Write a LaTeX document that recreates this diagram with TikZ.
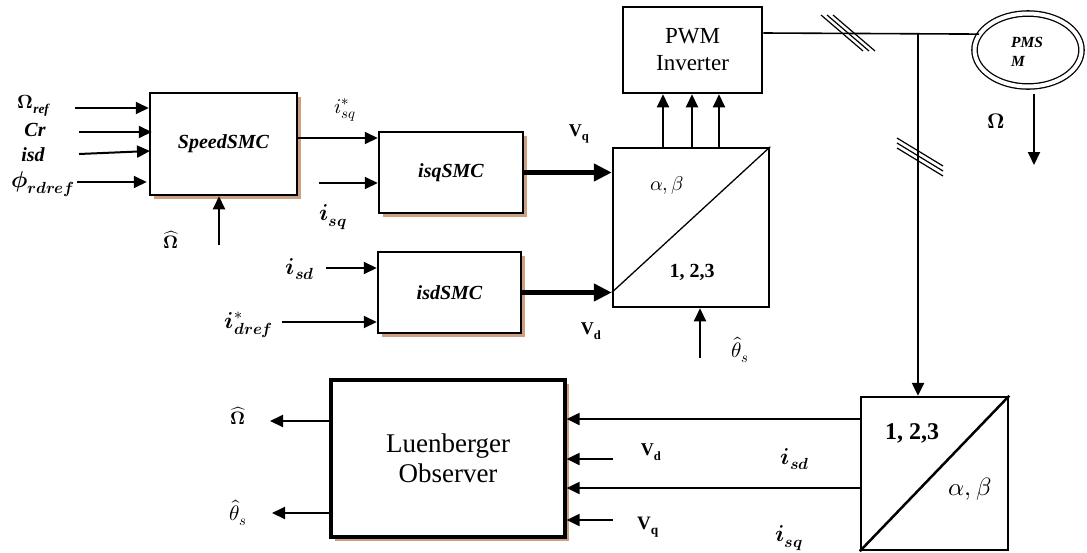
\documentclass[tikz,border=0pt]{standalone}
\usepackage{amsmath}
\usepackage{fontspec}
\usepackage{unicode-math}
\setmainfont{Liberation Serif}
\setmathfont{Latin Modern Math}
\usetikzlibrary{arrows.meta,shapes.geometric,shadows}
\definecolor{shad}{RGB}{204,160,128}
\begin{document}
\begin{tikzpicture}[x=1pt,y=-1pt,
  box/.style={draw, line width=2.5pt, fill=white, inner sep=0pt,
    drop shadow={shadow xshift=3.5pt, shadow yshift=-3.5pt, fill=shad, opacity=1}},
  plainbox/.style={draw, line width=2.5pt, fill=white, inner sep=0pt},
  arr/.style={line width=2pt, -{Triangle[length=13pt,width=12pt]}},
  thk/.style={line width=5pt, -{Triangle[length=18pt,width=17pt]}},
  wire/.style={line width=1.6pt},
  lbl/.style={inner sep=0pt, font=\fontsize{18}{20}\selectfont},
  ilbl/.style={inner sep=0pt, font=\fontsize{23}{25}\selectfont},
  tlbl/.style={inner sep=0pt, font=\fontsize{21}{23}\selectfont},
  blab/.style={inner sep=0pt, font=\fontsize{20}{22}\selectfont\bfseries\itshape},
]
\useasboundingbox (0,0) rectangle (1087,552);

% blocks
\node[box, minimum width=147pt, minimum height=102pt, font=\fontsize{20}{22}\selectfont\bfseries\itshape] (speed) at (223.5,144) {SpeedSMC};
\node[box, minimum width=144pt, minimum height=81pt, font=\fontsize{20}{22}\selectfont\bfseries\itshape] (isq) at (451,172.5) {isqSMC};
\node[box, minimum width=143pt, minimum height=81pt, font=\fontsize{20}{22}\selectfont\bfseries\itshape] (isd) at (449.5,292.5) {isdSMC};
\node[plainbox, minimum width=156pt, minimum height=159pt] (tr1) at (691,227.5) {};
\node[plainbox, minimum width=139pt, minimum height=86pt, align=center, font=\fontsize{23}{27}\selectfont] (pwm) at (692.5,50) {PWM\\Inverter};
\node[draw, ellipse, double, double distance=4pt, line width=1.3pt, minimum width=107pt, minimum height=73pt] (motor) at (1028,50) {};
\node[inner sep=0pt, anchor=west, align=left, font=\fontsize{15.5}{19}\selectfont\bfseries\itshape] (pmsm) at (1011,52) {PMS\\M};
\node[plainbox, minimum width=147pt, minimum height=153pt] (tr2) at (934.5,473.5) {};
\node[box, line width=3.2pt, minimum width=234pt, minimum height=157pt, align=center, font=\fontsize{27}{30}\selectfont] (luen) at (448,458.5) {Luenberger\\Observer};

% transformation diagonals and labels
\draw[line width=1.3pt] (tr1.west |- isd.east) -- (tr1.north east);
\node[lbl, font=\fontsize{20}{22}\selectfont] (ab1) at (667,185) {$\alpha,\beta$};
\node[lbl, font=\fontsize{20}{22}\selectfont\bfseries] (n1) at (692,272) {1, 2,3};
\draw[line width=2.5pt] (tr2.south west) -- (tr2.north east);
\node[lbl, font=\fontsize{24}{26}\selectfont\bfseries] (n2) at (912,433) {1, 2,3};
\node[lbl, font=\fontsize{25}{27}\selectfont] (ab2) at (970,489) {$\alpha,\beta$};

% SpeedSMC inputs
\coordinate (in1) at (75,108);
\coordinate (in2) at (79,132);
\coordinate (in3) at (79,154);
\coordinate (in4) at (77,182);
\coordinate (in3e) at (150,151);
\draw[arr] (in1) -- (in1 -| speed.west);
\draw[arr] (in2) -- ([xshift=3pt]in2 -| speed.west);
\draw[arr] (in3) -- (in3e);
\draw[arr] (in4) -- ([xshift=-2pt]in4 -| speed.west);
\node[lbl, font=\fontsize{19}{21}\selectfont] (lomref) at (34,106) {$\symbf{\Omega}_{\textbf{\textit{ref}}}$};
\node[blab] (lcr) at (35,130) {Cr};
\node[blab] (lisd) at (33,155) {isd};
\node[ilbl] (lphi) at (43,184) {$\symbfit{\phi}_{\symbfit{rdref}}$};

% Omega hat into SpeedSMC
\coordinate (omh) at (219,245);
\draw[arr] (omh) -- (omh |- speed.south);
\node[lbl] (lomh) at (171,240) {$\widehat{\symbf{\Omega}}$};

% isq reference
\coordinate (risq) at (0,138);
\draw[arr] (risq -| speed.east) -- (risq -| isq.west);
\node[tlbl] (listar) at (345,110) {$i_{sq}^{*}$};
\coordinate (misq) at (319,183);
\draw[arr] (misq) -- (misq -| isq.west);
\node[ilbl] (lisq) at (333,217) {$\symbfit{i}_{\symbfit{sq}}$};

% isd controller inputs
\coordinate (misd) at (326,268);
\draw[arr] (misd) -- (misd -| isd.west);
\node[ilbl] (lisd2) at (300,269) {$\symbfit{i}_{\symbfit{sd}}$};
\coordinate (rid) at (282,322);
\draw[arr] (rid) -- (rid -| isd.west);
\node[ilbl] (lidref) at (249,325) {$\symbfit{i}_{\symbfit{dref}}^{*}$};

% thick outputs
\draw[thk] (isq.east) -- (isq.east -| tr1.west);
\node[lbl, font=\fontsize{18}{20}\selectfont\bfseries] (lvq) at (579,134) {V\textsubscript{q}};
\draw[thk] (isd.east) -- (isd.east -| tr1.west);
\node[lbl, font=\fontsize{18}{20}\selectfont\bfseries] (lvd) at (591,331) {V\textsubscript{d}};

% tr1 to PWM
\foreach \xx [count=\k] in {663,692,719} {
  \coordinate (p\k) at (\xx,0);
  \draw[arr] (p\k |- tr1.north) -- (p\k |- pwm.south);
}
\coordinate (th1) at (700,358);
\draw[arr] (th1) -- (th1 |- tr1.south);
\node[tlbl] (lth1) at (740,350) {$\hat{\theta}_s$};

% PWM to motor
\coordinate (bus) at (0,33);
\coordinate (junc) at (918,33);
\draw[wire] (bus -| pwm.east) -- (motor.162);
\foreach \d in {-6,0,6} \draw[line width=1.2pt] (848+\d-21,33-18) -- (848+\d+21,33+18);
\draw[line width=2.5pt, -{Triangle[length=13pt,width=12pt]}] (junc) -- (junc |- tr2.north);
\foreach \d in {-5,0,5} \draw[line width=1.2pt] (897,143+\d) -- (943,171+\d);

% speed output
\coordinate (omtop) at (1034,94);
\coordinate (omend) at (1034,165);
\draw[arr] (omtop) -- (omend);
\node[lbl, font=\fontsize{21}{23}\selectfont] (lom) at (996,121) {$\symbf{\Omega}$};

% tr2 to observer
\coordinate (r1) at (0,419);
\coordinate (r2) at (0,488);
\draw[arr] (r1 -| tr2.west) -- (r1 -| luen.east);
\draw[arr] (r2 -| tr2.west) -- (r2 -| luen.east);
\node[ilbl] (lisd3) at (795,459) {$\symbfit{i}_{\symbfit{sd}}$};
\node[ilbl] (lisq3) at (789,538) {$\symbfit{i}_{\symbfit{sq}}$};
\coordinate (vd) at (613,459);
\coordinate (vq) at (613,520);
\draw[arr] (vd) -- (vd -| luen.east);
\draw[arr] (vq) -- (vq -| luen.east);
\node[lbl, font=\fontsize{18}{20}\selectfont\bfseries] (lvd2) at (651,452) {V\textsubscript{d}};
\node[lbl, font=\fontsize{19}{21}\selectfont\bfseries] (lvq2) at (648,527) {V\textsubscript{q}};

% observer outputs
\coordinate (o1) at (270,421);
\coordinate (o2) at (272,513);
\draw[arr] (o1 -| luen.west) -- (o1);
\draw[arr] (o2 -| luen.west) -- (o2);
\node[lbl] (lomh2) at (238,416) {$\widehat{\symbf{\Omega}}$};
\node[tlbl] (lth2) at (238,513) {$\hat{\theta}_s$};
\end{tikzpicture}
\end{document}
